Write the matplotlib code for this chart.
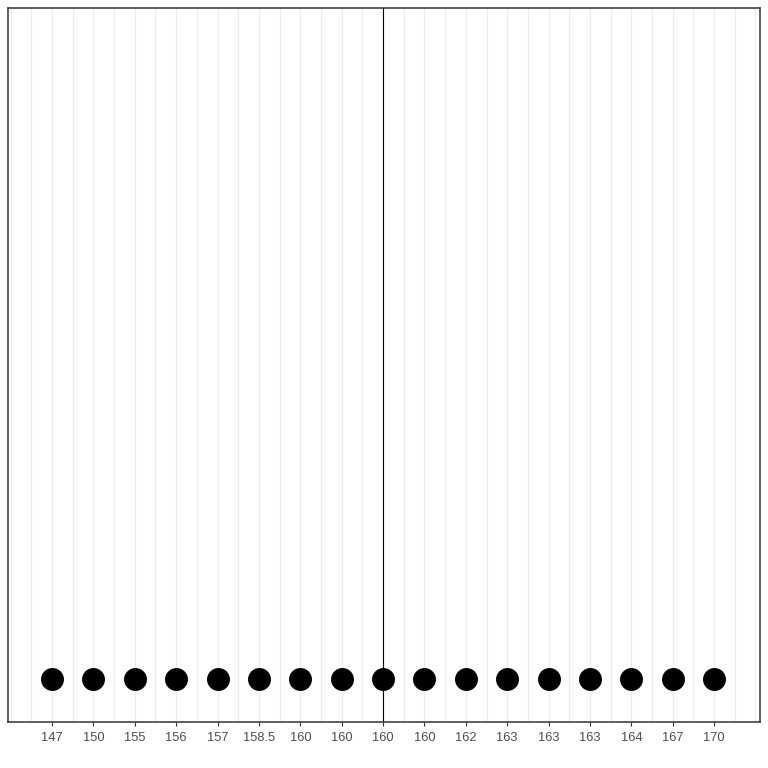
import matplotlib
matplotlib.use('Agg')
import matplotlib.pyplot as plt
import numpy as np

# heights, sorted, one dot each
labels = ['147', '150', '155', '156', '157', '158.5', '160', '160', '160',
          '160', '162', '163', '163', '163', '164', '167', '170']
dot_y = [0.06] * 17
vline_at = 9

plt.rcParams['font.family'] = ['Liberation Sans', 'DejaVu Sans']

fig = plt.figure(figsize=(7.68, 7.68), dpi=100)
ax = fig.add_axes([0.0104, 0.0599, 0.9792, 0.9301])

pos = np.arange(1, len(labels) + 1)

# grid at every half step like ggplot major+minor
for g in np.arange(0, 18.01, 0.5):
    ax.axvline(g, color='#EBEBEB', lw=0.9, zorder=0)

ax.axvline(vline_at, color='black', lw=0.8, zorder=1)
ax.plot(pos, dot_y, 'o', color='black', markersize=15.5, zorder=2)

ax.set_xlim(-0.065, 18.11)
ax.set_ylim(0, 1)
ax.set_xticks(pos)
ax.set_xticklabels(labels)
ax.set_yticks([])
ax.tick_params(axis='x', length=3, width=0.8, color='#333333',
               labelcolor='#4D4D4D', labelsize=9.3, pad=4)
for s in ax.spines.values():
    s.set_color('#333333')
    s.set_linewidth(1.1)

fig.savefig('out.png', dpi=100)
